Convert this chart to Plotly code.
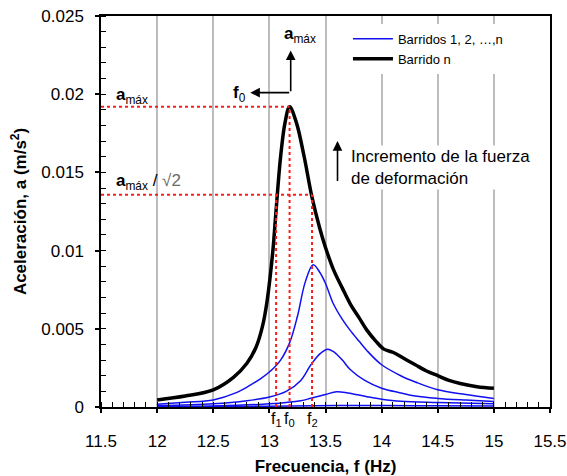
import plotly.graph_objects as go
import math

# ---------------- data ----------------
freq_n = [12.0, 12.25, 12.5, 12.68, 12.8, 12.88, 12.94, 12.98, 13.03, 13.06, 13.1, 13.14, 13.18,
          13.24, 13.31, 13.38, 13.45, 13.5, 13.57, 13.65, 13.72, 13.8, 13.87, 13.95, 14.02, 14.1,
          14.2, 14.3, 14.4, 14.5, 14.6, 14.7, 14.85, 15.0]
acc_n = [0.00045, 0.0007, 0.0011, 0.0019, 0.0028, 0.0038, 0.0052, 0.0068, 0.0099, 0.0126, 0.0160,
         0.0182, 0.0192, 0.0182, 0.0160, 0.0134, 0.0114, 0.0102, 0.0088, 0.0076, 0.0066, 0.0057,
         0.0049, 0.0042, 0.0037, 0.0035, 0.0031, 0.0027, 0.0023, 0.0020, 0.0017, 0.0015, 0.0013, 0.0012]

freq_b1 = [12.0, 12.25, 12.5, 12.7, 12.83, 12.92, 13.01, 13.1, 13.18, 13.25, 13.32, 13.39, 13.45,
           13.5, 13.57, 13.65, 13.72, 13.8, 13.87, 14.0, 14.17, 14.3, 14.5, 14.75, 15.0]
acc_b1 = [0.00017, 0.0003, 0.00045, 0.0009, 0.0014, 0.0018, 0.0023, 0.0030, 0.0041, 0.0058, 0.0080,
          0.0091, 0.0086, 0.0079, 0.0066, 0.0056, 0.0049, 0.0042, 0.0036, 0.0027, 0.0020, 0.0016,
          0.0011, 0.0008, 0.00055]

freq_b2 = [12.0, 12.5, 12.8, 13.0, 13.15, 13.28, 13.37, 13.45, 13.52, 13.58, 13.65, 13.72, 13.85,
           14.0, 14.17, 14.3, 14.5, 14.75, 15.0]
acc_b2 = [0.00008, 0.0002, 0.0004, 0.00064, 0.001, 0.0017, 0.0027, 0.0034, 0.0037, 0.0035, 0.003,
          0.0024, 0.0017, 0.0012, 0.0009, 0.0007, 0.00055, 0.00044, 0.00035]

freq_b3 = [12.0, 12.5, 13.0, 13.28, 13.37, 13.5, 13.6, 13.7, 13.87, 14.0, 14.17, 14.5, 15.0]
acc_b3 = [0.00003, 0.00007, 0.0002, 0.0004, 0.00056, 0.0008, 0.00098, 0.0009, 0.00066, 0.0005,
          0.00036, 0.00028, 0.0002]

freq_b4 = [12.0, 12.5, 13.0, 13.4, 13.7, 14.0, 14.5, 15.0]
acc_b4 = [0.00002, 0.00003, 0.00005, 0.00008, 0.0001, 0.00009, 0.00008, 0.00007]

f0 = 13.18
f1 = 13.06
f2 = 13.38
a_max = max(acc_n)
a_half = a_max / math.sqrt(2)

x_ticks = [11.5, 12, 12.5, 13, 13.5, 14, 14.5, 15, 15.5]

# ---------------- figure ----------------
FONT = "Liberation Sans, Arial, sans-serif"
BLUE = "#1010f0"
fig = go.Figure()

blue_sets = [(freq_b1, acc_b1), (freq_b2, acc_b2), (freq_b3, acc_b3), (freq_b4, acc_b4)]
for i, (fx, fy) in enumerate(blue_sets):
    fig.add_trace(go.Scatter(x=fx, y=fy, mode="lines", line=dict(color=BLUE, width=1.5, shape="spline"),
                             name="Barridos 1, 2, …,n", showlegend=(i == 0), legendrank=1))
fig.add_trace(go.Scatter(x=freq_n, y=acc_n, mode="lines", line=dict(color="black", width=3.5, shape="spline"),
                         name="Barrido n", legendrank=2))

red = dict(color="#ff1a1a", width=2, dash="dot")
shapes = [
    # white panel behind the legend (hides gridlines there)
    dict(type="rect", xref="paper", yref="paper", x0=0.533, x1=0.993, y0=0.862, y1=0.985,
         fillcolor="white", line=dict(width=0), layer="between"),
    dict(type="line", xref="x", yref="y", x0=11.5, x1=f0, y0=a_max, y1=a_max, line=red),
    dict(type="line", xref="x", yref="y", x0=11.5, x1=f2, y0=a_half, y1=a_half, line=red),
    dict(type="line", xref="x", yref="y", x0=f0, x1=f0, y0=0, y1=a_max, line=red),
    dict(type="line", xref="x", yref="y", x0=f1, x1=f1, y0=0, y1=a_half, line=red),
    dict(type="line", xref="x", yref="y", x0=f2, x1=f2, y0=0, y1=a_half, line=red),
]

ann = []
# L-shaped arrows near the peak
ann.append(dict(x=13.19, y=0.0228, ax=13.19, ay=0.0201, xref="x", yref="y", axref="x", ayref="y",
                text="", showarrow=True, arrowhead=2, arrowsize=1.2, arrowwidth=1.6, arrowcolor="black"))
ann.append(dict(x=12.83, y=0.0201, ax=13.19, ay=0.0201, xref="x", yref="y", axref="x", ayref="y",
                text="", showarrow=True, arrowhead=2, arrowsize=1.2, arrowwidth=1.6, arrowcolor="black"))
ann.append(dict(x=12.81, y=0.0200, xref="x", yref="y", text="<b>f</b><sub>0</sub>", showarrow=False,
                xanchor="right", font=dict(size=17, color="black", family=FONT)))
ann.append(dict(x=13.11, y=0.0238, xref="x", yref="y", text="<b>a</b><sub>máx</sub>", showarrow=False,
                xanchor="left", font=dict(size=17, color="black", family=FONT)))
# left labels
ann.append(dict(x=11.62, y=a_max, xref="x", yref="y", text="<b>a</b><sub>máx</sub>", showarrow=False,
                xanchor="left", yanchor="bottom", yshift=-2, font=dict(size=17, color="black", family=FONT)))
ann.append(dict(x=11.62, y=a_half, xref="x", yref="y",
                text="<b>a</b><sub>máx</sub> / <span style='color:#6a6a6a'>√2</span>", showarrow=False,
                xanchor="left", yanchor="bottom", font=dict(size=17, color="black", family=FONT)))
# f labels under axis
for fv, lab in [(f1, "f<sub>1</sub>"), (f0, "f<sub>0</sub>"), (f2, "f<sub>2</sub>")]:
    ann.append(dict(x=fv, y=0, xref="x", yref="y", text=lab, showarrow=False, yanchor="top", yshift=-1,
                    font=dict(size=16, color="black", family=FONT)))
# Increment arrow and text
ann.append(dict(x=13.607, y=0.0170, ax=13.607, ay=0.01436, xref="x", yref="y", axref="x", ayref="y",
                text="", showarrow=True, arrowhead=2, arrowsize=1.2, arrowwidth=1.6, arrowcolor="black"))
ann.append(dict(x=13.71, y=0.0153, xref="x", yref="y",
                text="Incremento de la fuerza<br>de deformación", showarrow=False, xanchor="left",
                align="left", bgcolor="white", font=dict(size=17, color="black", family=FONT)))

fig.update_layout(
    width=567, height=476,
    margin=dict(l=101, r=17, t=16, b=69),
    paper_bgcolor="white", plot_bgcolor="white",
    font=dict(family=FONT, color="black"),
    shapes=shapes, annotations=ann,
    legend=dict(x=0.55, y=0.98, xanchor="left", yanchor="top", bgcolor="white",
                font=dict(size=13, family=FONT, color="black"), tracegroupgap=0,
                itemwidth=40, borderwidth=0),
    showlegend=True,
)
fig.update_xaxes(
    range=[11.5, 15.5], tickvals=x_ticks, ticktext=[f"{v:g}" for v in x_ticks],
    showgrid=True, gridcolor="#bdbdbd", gridwidth=1.5,
    showline=True, linecolor="black", linewidth=1.5, mirror=True,
    ticks="outside", ticklen=4, tickcolor="black", tickwidth=1.5,
    minor=dict(dtick=0.1, ticks="inside", ticklen=5, tickcolor="black", tickwidth=1.2, showgrid=False),
    tickfont=dict(size=17, family=FONT, color="black"), ticklabelstandoff=14,
    title=dict(text="<b>Frecuencia, f (Hz)</b>", font=dict(size=17, family=FONT, color="black"), standoff=12),
    zeroline=False, automargin=False,
)
fig.update_yaxes(
    range=[0, 0.025], dtick=0.005, tick0=0,
    showgrid=False,
    showline=True, linecolor="black", linewidth=1.5, mirror=True,
    ticks="outside", ticklen=4, tickcolor="black", tickwidth=1.5,
    minor=dict(dtick=0.001, ticks="inside", ticklen=5, tickcolor="black", tickwidth=1.2, showgrid=False),
    tickfont=dict(size=17, family=FONT, color="black"), ticklabelstandoff=8,
    title=dict(text="<b>Aceleración, a (m/s<sup>2</sup>)</b>", font=dict(size=17, family=FONT, color="black"), standoff=10),
    zeroline=False, automargin=False,
)

fig.write_html("out.html")
